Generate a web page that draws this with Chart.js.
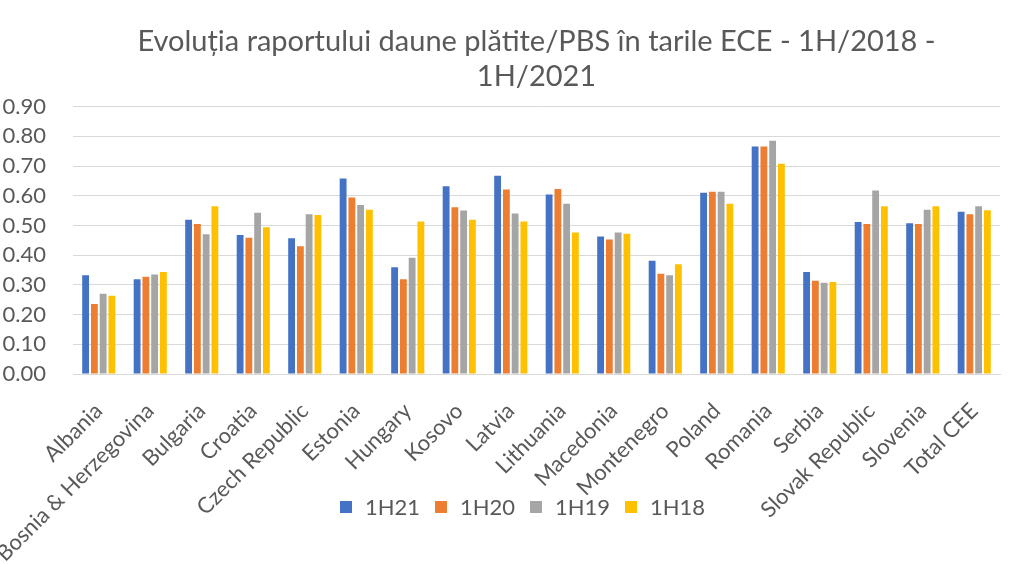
<!DOCTYPE html>
<html>
<head>
<meta charset="utf-8">
<script src="https://cdn.jsdelivr.net/npm/chart.js@4"></script>
<style>
  html, body { margin: 0; padding: 0; background: #fff; }
  #wrap { position: relative; width: 1024px; height: 564px; }
  #legend { position: absolute; left: 340px; top: 493px; display: flex; font-family: Lato, sans-serif; font-size: 22px; color: #595959; }
  .item { display: flex; align-items: center; width: 95px; }
  .box { width: 12px; height: 12px; margin-right: 13px; }
</style>
</head>
<body>
<div id="wrap">
  <canvas id="c" width="1024" height="564"></canvas>
  <div id="legend"></div>
</div>
<script>
/* ============ DATA ============ */
const countries = ['Albania', 'Bosnia & Herzegovina', 'Bulgaria', 'Croatia', 'Czech Republic', 'Estonia',
  'Hungary', 'Kosovo', 'Latvia', 'Lithuania', 'Macedonia', 'Montenegro', 'Poland', 'Romania',
  'Serbia', 'Slovak Republic', 'Slovenia', 'Total CEE'];
const h21 = [0.332, 0.319, 0.519, 0.468, 0.457, 0.658, 0.359, 0.632, 0.667, 0.604, 0.463, 0.381, 0.610, 0.766, 0.343, 0.512, 0.507, 0.546];
const h20 = [0.236, 0.327, 0.505, 0.459, 0.430, 0.594, 0.319, 0.561, 0.621, 0.623, 0.453, 0.337, 0.613, 0.766, 0.314, 0.505, 0.505, 0.538];
const h19 = [0.270, 0.335, 0.470, 0.543, 0.538, 0.569, 0.391, 0.550, 0.540, 0.573, 0.476, 0.332, 0.613, 0.785, 0.307, 0.618, 0.553, 0.565];
const h18 = [0.263, 0.343, 0.565, 0.494, 0.535, 0.553, 0.513, 0.519, 0.513, 0.476, 0.472, 0.369, 0.573, 0.708, 0.310, 0.565, 0.565, 0.551];
const seriesNames = ['1H21', '1H20', '1H19', '1H18'];
const colors = ['#4472C4', '#ED7D31', '#A5A5A5', '#FFC000'];

/* ============ CHART ============ */
const textColor = '#595959';
const font = 'Lato, sans-serif';

new Chart(document.getElementById('c'), {
  type: 'bar',
  data: {
    labels: countries,
    datasets: [h21, h20, h19, h18].map((d, i) => ({
      label: seriesNames[i],
      data: d,
      backgroundColor: colors[i],
      categoryPercentage: 0.68,
      barPercentage: 0.78
    }))
  },
  options: {
    responsive: false,
    animation: false,
    layout: { padding: { left: 3, right: 24, top: 0, bottom: 0 } },
    plugins: {
      legend: { display: false },
      tooltip: { enabled: false },
      title: {
        display: true,
        fullSize: false,
        text: ['Evoluția raportului daune plătite/PBS în tarile ECE - 1H/2018 -', '1H/2021'],
        color: textColor,
        font: { family: font, size: 29, weight: 'normal', lineHeight: 1.2 },
        padding: { top: 24, bottom: 13 }
      }
    },
    scales: {
      x: {
        grid: { display: false },
        border: { color: '#D9D9D9' },
        ticks: { color: textColor, font: { family: font, size: 22 }, maxRotation: 45, minRotation: 45, padding: 16, autoSkip: false },
        afterFit: s => { s.height = 190; }
      },
      y: {
        min: 0, max: 0.9,
        grid: { color: '#D9D9D9', drawTicks: false },
        border: { display: false },
        ticks: { stepSize: 0.1, color: textColor, font: { family: font, size: 22 }, padding: 27, callback: v => v.toFixed(2) },
        afterFit: s => { s.width = 70; }
      }
    }
  }
});

/* ============ LEGEND ============ */
document.getElementById('legend').innerHTML = seriesNames.map((n, i) => `
  <div class="item"><span class="box" style="background:${colors[i]}"></span><span>${n}</span></div>
`).join('');
</script>
</body>
</html>
